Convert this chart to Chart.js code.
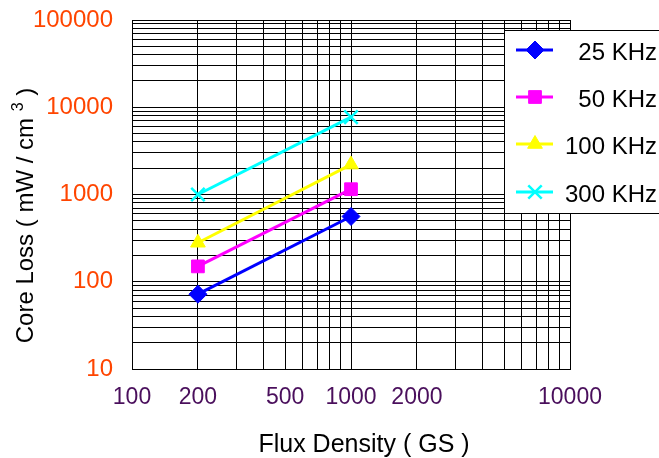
<!DOCTYPE html>
<html>
<head>
<meta charset="utf-8">
<script src="https://cdn.jsdelivr.net/npm/chart.js@4/dist/chart.umd.min.js"></script>
<style>
  html, body { margin: 0; padding: 0; background: #fff; }
  #wrap { width: 659px; height: 458px; position: relative; }
</style>
</head>
<body>
<div id="wrap"><canvas id="lossChart"></canvas></div>
<script>
// values
const fluxDensity = [200, 1000];
const seriesNames = ['25 KHz', '50 KHz', '100 KHz', '300 KHz'];
const loss25 = [72, 560];
const loss50 = [150, 1150];
const loss100 = [280, 2200];
const loss300 = [1000, 7700];
const xTickLabels = [100, 200, 500, 1000, 2000, 10000];
const yTickLabels = [10, 100, 1000, 10000, 100000];

const FONT = '"Liberation Sans", Arial, sans-serif';

function toPoints(values) {
    return fluxDensity.map(function (x, i) { return { x: x, y: values[i] }; });
}

// every 1..9 x 10^n between min and max, for the log grid
function logGrid(min, max) {
    const out = [];
    for (let e = Math.floor(Math.log10(min)); Math.pow(10, e) <= max; e++) {
        for (let m = 1; m < 10; m++) {
            const v = m * Math.pow(10, e);
            if (v >= min && v <= max) out.push({ value: v });
        }
    }
    return out;
}

const styles = [
    { color: '#0000ff', pointStyle: 'rectRot', radius: 9 },
    { color: '#ff00ff', pointStyle: 'rect', radius: 9 },
    { color: '#ffff00', pointStyle: 'triangle', radius: 8.5 },
    { color: '#00ffff', pointStyle: 'crossRot', radius: 9.5 }
];
const allSeries = [loss25, loss50, loss100, loss300];

const datasets = allSeries.map(function (vals, i) {
    const s = styles[i];
    return {
        label: seriesNames[i],
        data: toPoints(vals),
        borderColor: s.color,
        backgroundColor: s.color,
        borderWidth: 3,
        pointStyle: s.pointStyle,
        pointRadius: s.radius,
        pointBorderWidth: s.pointStyle === 'crossRot' ? 2.5 : 1,
        pointBackgroundColor: s.color,
        pointBorderColor: s.color,
        tension: 0
    };
});

// axis titles (with superscript) and the boxed legend
const decorations = {
    id: 'decorations',
    afterDatasetsDraw(chart) {
        const ctx = chart.ctx;
        ctx.save();

        // legend box
        ctx.fillStyle = '#fff';
        ctx.fillRect(504, 30, 160, 184);
        ctx.strokeStyle = '#000';
        ctx.lineWidth = 1;
        ctx.strokeRect(504.5, 30.5, 170, 183);

        const rowY = [50, 97, 144, 192];
        chart.data.datasets.forEach(function (ds, i) {
            const y = rowY[i];
            ctx.strokeStyle = ds.borderColor;
            ctx.lineWidth = 3;
            ctx.beginPath();
            ctx.moveTo(516, y);
            ctx.lineTo(553, y);
            ctx.stroke();
            ctx.fillStyle = ds.pointBackgroundColor;
            ctx.strokeStyle = ds.pointBorderColor;
            ctx.lineWidth = ds.pointBorderWidth;
            Chart.helpers.drawPoint(ctx, {
                pointStyle: ds.pointStyle,
                radius: ds.pointRadius,
                rotation: 0,
                borderWidth: ds.pointBorderWidth
            }, 535, y);
            ctx.fillStyle = '#000';
            ctx.font = '24px ' + FONT;
            ctx.textAlign = 'right';
            ctx.textBaseline = 'alphabetic';
            ctx.fillText(ds.label, 657, y + 10);
        });

        // x title
        ctx.fillStyle = '#000';
        ctx.font = '25px ' + FONT;
        ctx.textAlign = 'center';
        ctx.textBaseline = 'alphabetic';
        ctx.fillText('Flux Density ( GS )', 364, 452);

        // y title, rotated, with small raised 3
        const parts = ['Core Loss ( mW / cm ', '3', ' )'];
        const big = '24px ' + FONT, small = '16px ' + FONT;
        ctx.font = big; const w0 = ctx.measureText(parts[0]).width;
        ctx.font = small; const w1 = ctx.measureText(parts[1]).width;
        ctx.font = big; const w2 = ctx.measureText(parts[2]).width;
        const total = w0 + w1 + w2;
        ctx.translate(24, 215.5);
        ctx.rotate(-Math.PI / 2);
        ctx.textAlign = 'left';
        let x = -total / 2;
        ctx.font = big; ctx.fillText(parts[0], x, 8.5); x += w0;
        ctx.font = small; ctx.fillText(parts[1], x, -1); x += w1;
        ctx.font = big; ctx.fillText(parts[2], x, 8.5);

        ctx.restore();
    }
};

const ctx = document.getElementById('lossChart').getContext('2d');
const lossChart = new Chart(ctx, {
    type: 'line',
    data: { datasets: datasets },
    options: {
        responsive: true,
        maintainAspectRatio: false,
        animation: false,
        layout: { padding: { left: 0, right: 89, top: 20, bottom: 0 } },
        scales: {
            x: {
                type: 'logarithmic',
                min: 100,
                max: 10000,
                afterBuildTicks: function (scale) { scale.ticks = logGrid(100, 10000); },
                afterFit: function (scale) {
                    scale.height = 89;
                    scale.paddingLeft = 0;
                    scale.paddingRight = 0;
                },
                grid: { color: '#000', lineWidth: 1, drawTicks: false },
                border: { color: '#000', width: 1 },
                ticks: {
                    autoSkip: false,
                    maxRotation: 0,
                    padding: 15,
                    color: '#4a0f5c',
                    font: { family: FONT, size: 23 },
                    callback: function (v) { return xTickLabels.indexOf(v) >= 0 ? String(v) : ''; }
                }
            },
            y: {
                type: 'logarithmic',
                min: 10,
                max: 100000,
                afterBuildTicks: function (scale) { scale.ticks = logGrid(10, 100000); },
                afterFit: function (scale) {
                    scale.width = 132;
                    scale.paddingTop = 0;
                    scale.paddingBottom = 0;
                },
                grid: { color: '#000', lineWidth: 1, drawTicks: false },
                border: { color: '#000', width: 1 },
                ticks: {
                    autoSkip: false,
                    padding: 19,
                    color: '#ff4500',
                    font: { family: FONT, size: 24 },
                    callback: function (v) { return yTickLabels.indexOf(v) >= 0 ? String(v) : ''; }
                }
            }
        },
        plugins: {
            legend: { display: false },
            title: { display: false },
            tooltip: { enabled: false }
        }
    },
    plugins: [decorations]
});
</script>
</body>
</html>
